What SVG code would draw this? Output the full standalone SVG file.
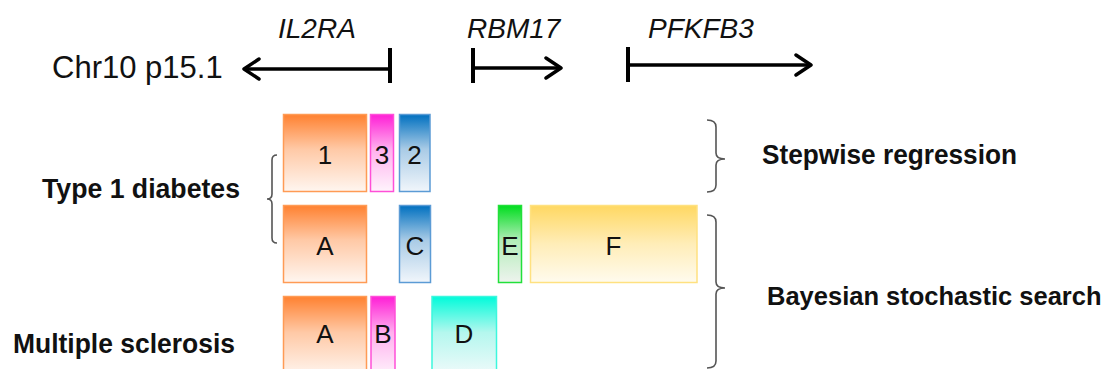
<svg xmlns="http://www.w3.org/2000/svg" width="1107" height="369" viewBox="0 0 1107 369">
  <style>
    .lbl { font-family: "Liberation Sans", Arial, sans-serif; font-size: 26px; fill: #111; text-anchor: middle; }
    .gene { font-family: "Liberation Sans", Arial, sans-serif; font-size: 28px; font-style: italic; fill: #111; }
    .head { font-family: "Liberation Sans", Arial, sans-serif; font-size: 27px; font-weight: bold; fill: #111; }
    .chr { font-family: "Liberation Sans", Arial, sans-serif; font-size: 31px; fill: #111; }
    .arrow { fill: none; stroke: #000; stroke-width: 3.5; }
    .tick { fill: none; stroke: #000; stroke-width: 4; }
    .brace { fill: none; stroke: #555; stroke-width: 1.6; }
    .orange { fill: url(#gOrange); stroke: #FF9B55; stroke-width: 1.5; }
    .magenta { fill: url(#gMagenta); stroke: #FF4FD8; stroke-width: 1.5; }
    .blue { fill: url(#gBlue); stroke: #5B9BD5; stroke-width: 1.5; }
    .green { fill: url(#gGreen); stroke: #22E03A; stroke-width: 1.5; }
    .yellow { fill: url(#gYellow); stroke: #FFE180; stroke-width: 1.5; }
    .teal { fill: url(#gTeal); stroke: #3CF7DD; stroke-width: 1.5; }
  </style>
  <defs>
    <linearGradient id="gOrange" x1="0" y1="0" x2="0" y2="1">
      <stop offset="0" stop-color="#FF8130"/>
      <stop offset="0.45" stop-color="#FFC9A6"/>
      <stop offset="1" stop-color="#FFF6F0"/>
    </linearGradient>
    <linearGradient id="gMagenta" x1="0" y1="0" x2="0" y2="1">
      <stop offset="0" stop-color="#FF1ED6"/>
      <stop offset="0.45" stop-color="#FFB0EE"/>
      <stop offset="1" stop-color="#FFF4FC"/>
    </linearGradient>
    <linearGradient id="gBlue" x1="0" y1="0" x2="0" y2="1">
      <stop offset="0" stop-color="#0070C0"/>
      <stop offset="0.45" stop-color="#A9CBE6"/>
      <stop offset="1" stop-color="#F1F6FB"/>
    </linearGradient>
    <linearGradient id="gGreen" x1="0" y1="0" x2="0" y2="1">
      <stop offset="0" stop-color="#00DD1E"/>
      <stop offset="0.45" stop-color="#B2EDB8"/>
      <stop offset="1" stop-color="#EEF3EE"/>
    </linearGradient>
    <linearGradient id="gYellow" x1="0" y1="0" x2="0" y2="1">
      <stop offset="0" stop-color="#FFD862"/>
      <stop offset="0.5" stop-color="#FFEDB8"/>
      <stop offset="1" stop-color="#FFFBEE"/>
    </linearGradient>
    <linearGradient id="gTeal" x1="0" y1="0" x2="0" y2="1">
      <stop offset="0" stop-color="#00FBDA"/>
      <stop offset="0.45" stop-color="#B4F7EE"/>
      <stop offset="1" stop-color="#F2FAFB"/>
    </linearGradient>
    <marker id="chev" viewBox="0 0 20 24" refX="18" refY="12" markerWidth="20" markerHeight="24" markerUnits="userSpaceOnUse" orient="auto">
      <path d="M3,2 L18,12 L3,22" fill="none" stroke="#000" stroke-width="3.5" stroke-linecap="round" stroke-linejoin="round"/>
    </marker>
  </defs>

  <rect width="1107" height="369" fill="#fff"/>

  <!-- chromosome band label -->
  <text class="chr" x="52" y="78">Chr10 p15.1</text>

  <!-- gene names -->
  <text class="gene" x="278" y="38">IL2RA</text>
  <text class="gene" x="467" y="38">RBM17</text>
  <text class="gene" x="648" y="38">PFKFB3</text>

  <!-- gene direction arrows -->
  <g id="connectors">
    <path class="tick" d="M390,48 L390,83"/>
    <path class="arrow" d="M390,69 L244,69" marker-end="url(#chev)"/>
    <path class="tick" d="M473,48 L473,83"/>
    <path class="arrow" d="M473,68 L561,68" marker-end="url(#chev)"/>
    <path class="tick" d="M628,47 L628,82"/>
    <path class="arrow" d="M628,65 L811,65" marker-end="url(#chev)"/>
  </g>

  <!-- stepwise regression signals -->
  <g id="sw-1"><rect class="orange" x="283.5" y="114.5" width="83" height="77"/><text class="lbl" x="325" y="164">1</text></g>
  <g id="sw-3"><rect class="magenta" x="370.5" y="114.5" width="23" height="77"/><text class="lbl" x="382" y="164">3</text></g>
  <g id="sw-2"><rect class="blue" x="399.5" y="114.5" width="30.5" height="77"/><text class="lbl" x="414.5" y="164">2</text></g>

  <!-- Bayesian search: type 1 diabetes -->
  <g id="t1d-A"><rect class="orange" x="283.5" y="205.5" width="83" height="77"/><text class="lbl" x="325" y="255">A</text></g>
  <g id="t1d-C"><rect class="blue" x="399.5" y="205.5" width="31" height="77"/><text class="lbl" x="415" y="255">C</text></g>
  <g id="t1d-E"><rect class="green" x="498.5" y="205.5" width="23" height="77"/><text class="lbl" x="510" y="255">E</text></g>
  <g id="t1d-F"><rect class="yellow" x="530.5" y="205.5" width="166.5" height="77"/><text class="lbl" x="613.5" y="255">F</text></g>

  <!-- Bayesian search: multiple sclerosis -->
  <g id="ms-A"><rect class="orange" x="283.5" y="296.5" width="83" height="80"/><text class="lbl" x="325" y="343">A</text></g>
  <g id="ms-B"><rect class="magenta" x="371" y="296.5" width="24" height="80"/><text class="lbl" x="383" y="343">B</text></g>
  <g id="ms-D"><rect class="teal" x="432" y="296.5" width="64.5" height="80"/><text class="lbl" x="464" y="343">D</text></g>

  <!-- braces -->
  <g id="braces">
    <path class="brace" d="M277,155 Q272,155 272,160 L272,194 Q272,199 267,199 Q272,199 272,204 L272,238 Q272,243 277,243"/>
    <path class="brace" d="M707,120 Q716,120 716,127 L716,153 Q716,159 725,159 Q716,159 716,165 L716,185 Q716,192 707,192"/>
    <path class="brace" d="M707,215 Q716,215 716,222 L716,282 Q716,288 725,288 Q716,288 716,294 L716,361 Q716,368 707,368"/>
  </g>

  <!-- group labels -->
  <text class="head" x="42" y="198" textLength="198" lengthAdjust="spacingAndGlyphs">Type 1 diabetes</text>
  <text class="head" x="13" y="353" textLength="222" lengthAdjust="spacingAndGlyphs">Multiple sclerosis</text>
  <text class="head" x="762" y="164" textLength="255" lengthAdjust="spacingAndGlyphs">Stepwise regression</text>
  <text class="head" x="767" y="305" style="font-size:25.5px">Bayesian stochastic search</text>
</svg>
